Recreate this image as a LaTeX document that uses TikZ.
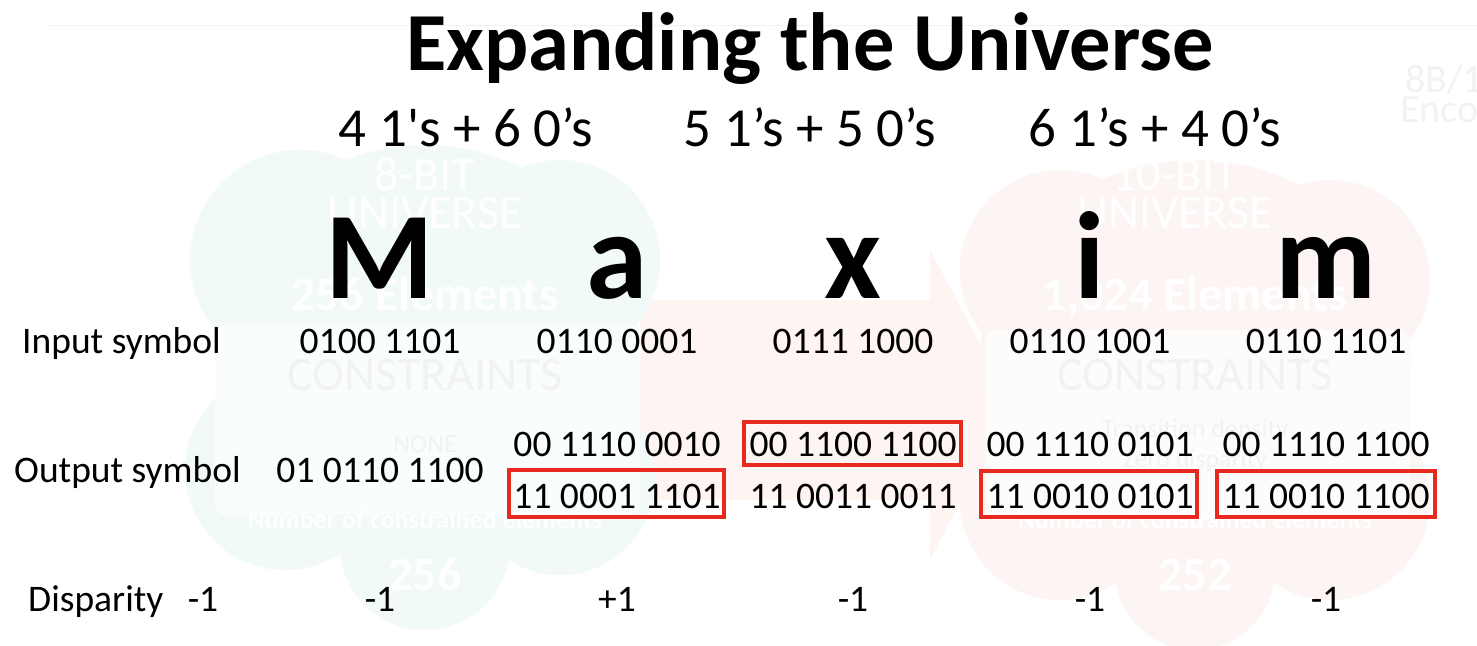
\documentclass[tikz,border=0pt]{standalone}
\usepackage{fontspec}
\setmainfont{Carlito}
\begin{document}
\begin{tikzpicture}[x=1pt,y=-1pt,
  txt/.style={inner sep=0pt,anchor=base,font=\fontsize{37.5}{37.5}\selectfont},
  lbl/.style={inner sep=0pt,anchor=base west,font=\fontsize{37.5}{37.5}\selectfont},
  sub/.style={inner sep=0pt,anchor=base,font=\fontsize{55}{55}\selectfont},
  big/.style={inner sep=0pt,anchor=base,font=\fontsize{124}{124}\selectfont\bfseries},
  hl/.style={draw=hlred,line width=4pt},
  ghost/.style={inner sep=0pt,anchor=base,text=ghostgrey},
  wghost/.style={inner sep=0pt,anchor=base,text=white}]
\definecolor{hlred}{HTML}{E8291F}
\definecolor{tealbg}{HTML}{F1FAF9}
\definecolor{pinkbg}{HTML}{FDF4F4}
\definecolor{arrowbg}{HTML}{FEF5F2}
\definecolor{ghostgrey}{HTML}{F2F2F2}
\useasboundingbox (0,0) rectangle (1477,645);
\fill[white] (0,0) rectangle (1477,645);
% faint background of the slide underneath
\draw[ghostgrey,line width=1pt] (50,25) -- (1477,25);
\fill[arrowbg] (640,300) -- (930,300) -- (930,250) -- (1010,400) -- (930,560) -- (930,500) -- (640,500) -- cycle;
\begin{scope}
\fill[tealbg] (425,330) ellipse (200 and 185);
\fill[tealbg] (300,260) circle (110);
\fill[tealbg] (560,260) circle (100);
\fill[tealbg] (285,470) circle (100);
\fill[tealbg] (560,480) circle (95);
\fill[tealbg] (425,545) circle (85);
\fill[white!60!tealbg,rounded corners=10pt] (215,325) rectangle (640,515);
\end{scope}
\begin{scope}
\fill[pinkbg] (1195,360) ellipse (215 and 200);
\fill[pinkbg] (1060,270) circle (100);
\fill[pinkbg] (1330,280) circle (100);
\fill[pinkbg] (1060,500) circle (100);
\fill[pinkbg] (1330,500) circle (100);
\fill[pinkbg] (1195,570) circle (80);
\fill[white!60!pinkbg,rounded corners=10pt] (985,330) rectangle (1410,520);
\end{scope}
\node[ghost,anchor=base west,font=\fontsize{40}{40}\selectfont] (g8b) at (1405,92) {8B/10B};
\node[ghost,anchor=base west,font=\fontsize{40}{40}\selectfont] (genc) at (1400,122) {Encoding};
\node[ghost,font=\fontsize{48}{48}\selectfont] (gc1) at (425,390) {CONSTRAINTS};
\node[ghost,font=\fontsize{48}{48}\selectfont] (gc2) at (1195,390) {CONSTRAINTS};
\node[ghost,font=\fontsize{26}{26}\selectfont] (gnone) at (425,452) {NONE};
\node[ghost,font=\fontsize{26}{26}\selectfont] (gtd) at (1195,437) {Transition density};
\node[ghost,font=\fontsize{26}{26}\selectfont] (gzd) at (1195,467) {Zero disparity};
\begin{scope}[every node/.append style={text=white!50!tealbg}]
\node[wghost,font=\fontsize{48}{48}\selectfont] (w1) at (425,190) {8-BIT};
\node[wghost,font=\fontsize{48}{48}\selectfont] (w2) at (425,228) {UNIVERSE};
\node[wghost,font=\fontsize{48}{48}\selectfont\bfseries] (w3) at (425,310) {256 Elements};
\node[wghost,font=\fontsize{26}{26}\selectfont\bfseries] (w4) at (425,528) {Number of constrained elements};
\node[wghost,font=\fontsize{48}{48}\selectfont\bfseries] (w5) at (425,590) {256};
\end{scope}
\begin{scope}[every node/.append style={text=white!50!pinkbg}]
\node[wghost,font=\fontsize{48}{48}\selectfont] (w6) at (1175,190) {10-BIT};
\node[wghost,font=\fontsize{48}{48}\selectfont] (w7) at (1175,228) {UNIVERSE};
\node[wghost,font=\fontsize{48}{48}\selectfont\bfseries] (w8) at (1195,310) {1,024 Elements};
\node[wghost,font=\fontsize{26}{26}\selectfont\bfseries] (w9) at (1195,528) {Number of constrained elements};
\node[wghost,font=\fontsize{48}{48}\selectfont\bfseries] (w10) at (1195,590) {252};
\end{scope}
% title
\node[inner sep=0pt,anchor=base,font=\fontsize{82.5}{82.5}\selectfont\bfseries] (title) at (810,70) {Expanding the Universe};
% subtitles
\node[sub] (s1) at (466,146) {4 1\textquotesingle s + 6 0’s};
\node[sub] (s2) at (810,146) {5 1’s + 5 0’s};
\node[sub] (s3) at (1155,146) {6 1’s + 4 0’s};
% big letters
\node[big] (L1) at (380,298) {M};
\node[big] (L2) at (617,298) {a};
\node[big] (L3) at (853,298) {x};
\node[big] (L4) at (1090,298) {i};
\node[big] (L5) at (1326,298) {m};
% input row
\node[lbl] (inl) at (22,353) {Input symbol};
\node[txt] (i1) at (380,353) {0100 1101};
\node[txt] (i2) at (617,353) {0110 0001};
\node[txt] (i3) at (853,353) {0111 1000};
\node[txt] (i4) at (1090,353) {0110 1001};
\node[txt] (i5) at (1326,353) {0110 1101};
% output row
\node[lbl] (outl) at (14,482) {Output symbol};
\node[txt] (o1) at (380,482) {01 0110 1100};
\node[txt] (o2a) at (617,456) {00 1110 0010};
\node[txt] (o2b) at (617,508) {11 0001 1101};
\node[txt] (o3a) at (853,456) {00 1100 1100};
\node[txt] (o3b) at (853,508) {11 0011 0011};
\node[txt] (o4a) at (1090,456) {00 1110 0101};
\node[txt] (o4b) at (1090,508) {11 0010 0101};
\node[txt] (o5a) at (1326,456) {00 1110 1100};
\node[txt] (o5b) at (1326,508) {11 0010 1100};
% highlight boxes
\draw[hl] (509,470) rectangle (724,517);
\draw[hl] (744,422) rectangle (961,465);
\draw[hl] (981,471) rectangle (1197,517);
\draw[hl] (1217,471) rectangle (1435,517);
% disparity row
\node[lbl] (disl) at (28,611) {Disparity};
\node[txt] (d0) at (203,611) {-1};
\node[txt] (d1) at (380,611) {-1};
\node[txt] (d2) at (617,611) {+1};
\node[txt] (d3) at (853,611) {-1};
\node[txt] (d4) at (1090,611) {-1};
\node[txt] (d5) at (1326,611) {-1};
\end{tikzpicture}
\end{document}
